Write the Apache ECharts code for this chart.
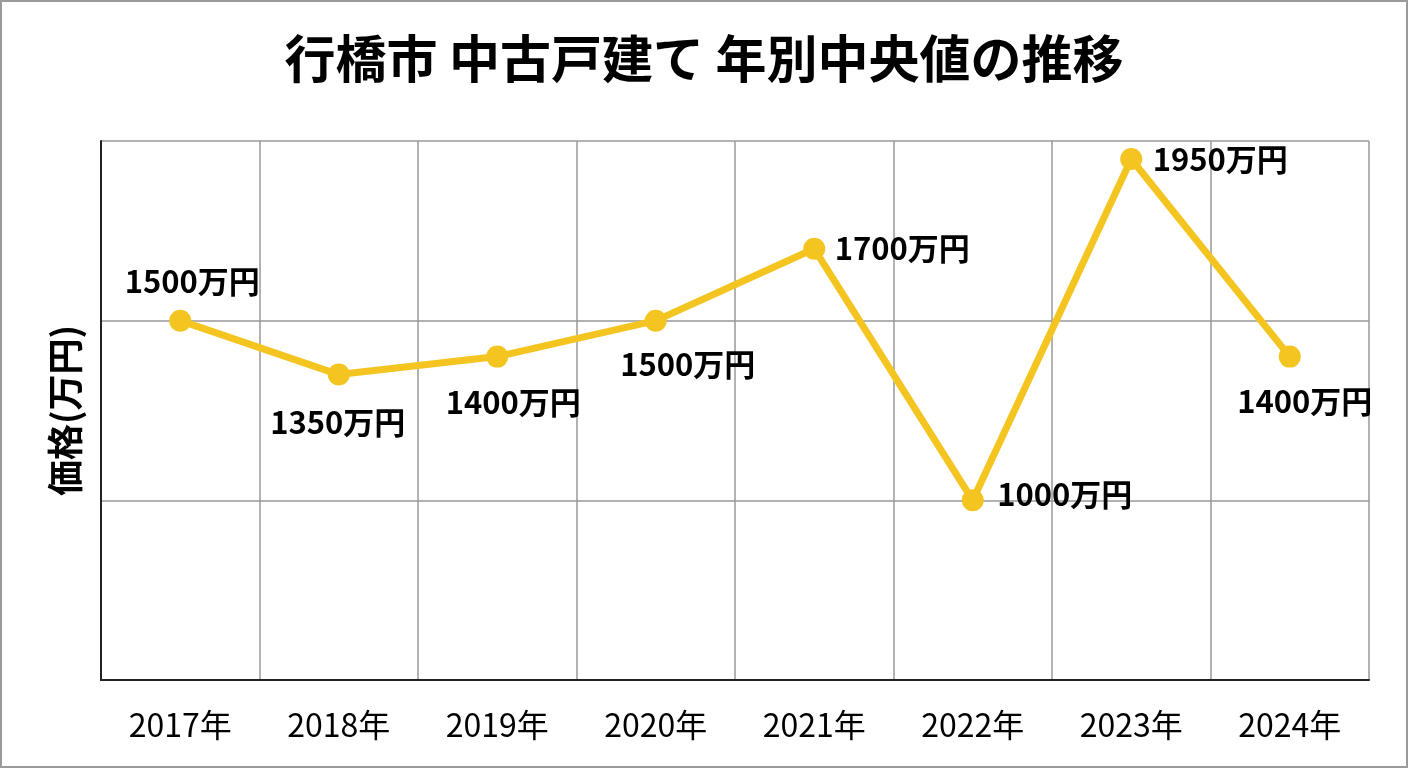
<!DOCTYPE html>
<html>
<head>
<meta charset="utf-8">
<script src="https://cdn.jsdelivr.net/npm/echarts@6/dist/echarts.min.js"></script>
<style>
  html, body { margin: 0; padding: 0; background: #fff; }
  #chart { width: 1404px; height: 764px; border: 2px solid #9a9a9a; }
</style>
</head>
<body>
<div id="chart"></div>
<script>
// data
var years = ['2017年', '2018年', '2019年', '2020年', '2021年', '2022年', '2023年', '2024年'];
var prices = [1500, 1350, 1400, 1500, 1700, 1000, 1950, 1400];
// where each value label sits relative to its point
var labelOffsets = [[12, -39], [-1, 48], [16, 46], [32, 44], [88, -1], [92, -6], [89, 0], [15, 45]];

var dom = document.getElementById('chart');
var myChart = echarts.init(dom, null, { renderer: 'canvas' });

var seriesData = prices.map(function (v, i) {
  return {
    value: v,
    label: { offset: labelOffsets[i] }
  };
});

var option = {
  backgroundColor: '#fff',
  animation: false,
  title: {
    text: '行橋市 中古戸建て 年別中央値の推移',
    left: 'center',
    top: 26,
    textStyle: {
      fontFamily: 'Noto Sans CJK JP',
      fontSize: 51,
      fontWeight: 'bold',
      color: '#000'
    }
  },
  grid: { left: 99, right: 37, top: 139, bottom: 86 },
  xAxis: {
    type: 'category',
    data: years,
    boundaryGap: true,
    axisLine: { lineStyle: { color: '#222', width: 2 } },
    axisTick: { show: false },
    axisLabel: {
      margin: 29,
      fontFamily: 'Noto Sans CJK JP',
      fontSize: 32,
      color: '#000'
    },
    splitLine: { show: true, lineStyle: { color: '#999', width: 1.5 } }
  },
  yAxis: {
    type: 'value',
    min: 500,
    max: 2000,
    interval: 500,
    name: '価格(万円)',
    nameLocation: 'middle',
    nameGap: 18,
    nameRotate: 90,
    nameTextStyle: {
      fontFamily: 'Noto Sans CJK JP',
      fontSize: 36,
      fontWeight: 'bold',
      color: '#000'
    },
    axisLine: { show: true, lineStyle: { color: '#222', width: 2 } },
    axisTick: { show: false },
    axisLabel: { show: false },
    splitLine: { show: true, lineStyle: { color: '#999', width: 1.5 } }
  },
  series: [{
    type: 'line',
    data: seriesData,
    symbol: 'circle',
    symbolSize: 22,
    itemStyle: { color: '#F4C520' },
    lineStyle: { color: '#F4C520', width: 7 },
    label: {
      show: true,
      position: 'inside',
      formatter: '{c}万円',
      fontFamily: 'Noto Sans CJK JP',
      fontSize: 31,
      fontWeight: 'bold',
      color: '#000'
    }
  }]
};

myChart.setOption(option);
window.addEventListener('resize', myChart.resize);
</script>
</body>
</html>
